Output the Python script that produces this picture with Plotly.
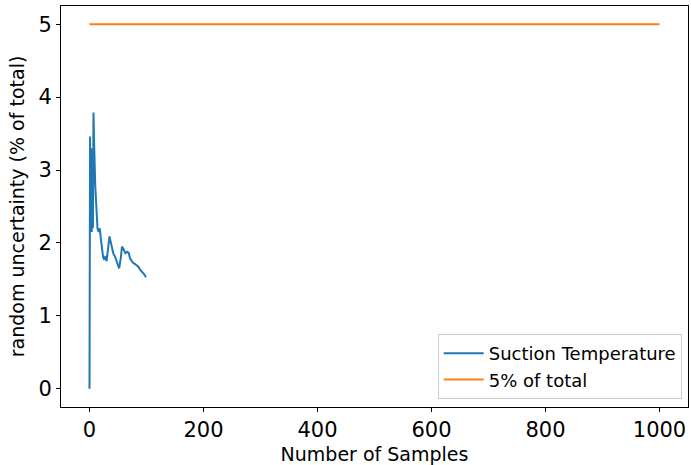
import plotly.graph_objects as go

samples = [0, 1, 2, 3, 4, 5, 6, 7, 8, 10, 12, 14, 16, 18, 20, 22, 24, 26, 28, 30, 33, 35, 37, 39, 42, 45, 48, 52, 55, 57, 60, 63, 66, 69, 71, 76, 80, 82, 86, 89, 93, 96, 99]
uncert = [0.0, 3.46, 2.15, 3.3, 2.15, 3.1, 2.2, 3.79, 3.4, 2.8, 2.4, 2.2, 2.15, 2.2, 2.05, 1.95, 1.8, 1.77, 1.82, 1.75, 1.95, 2.09, 2.02, 1.95, 1.85, 1.81, 1.74, 1.65, 1.8, 1.95, 1.91, 1.86, 1.88, 1.86, 1.79, 1.73, 1.71, 1.70, 1.67, 1.63, 1.60, 1.57, 1.53]
limit_x = [0, 1000]
limit_y = [5, 5]

fig = go.Figure()
fig.add_trace(go.Scatter(x=samples, y=uncert, mode="lines", name="Suction Temperature",
                         line=dict(color="#1f77b4", width=2)))
fig.add_trace(go.Scatter(x=limit_x, y=limit_y, mode="lines", name="5% of total",
                         line=dict(color="#ff7f0e", width=2)))

axis_common = dict(showline=True, linecolor="black", linewidth=1, mirror=True,
                   ticks="outside", ticklen=4, tickcolor="black", showgrid=False,
                   zeroline=False, tickfont=dict(size=21, color="black"))
fig.update_layout(
    width=691, height=465,
    margin=dict(l=61, r=3, t=6, b=58),
    paper_bgcolor="white", plot_bgcolor="white",
    font=dict(family="DejaVu Sans", color="black"),
    xaxis=dict(range=[-50, 1050], tickvals=[0, 200, 400, 600, 800, 1000],
               title=dict(text="Number of Samples", font=dict(size=19), standoff=7), **axis_common),
    yaxis=dict(range=[-0.25, 5.25], tickvals=[0, 1, 2, 3, 4, 5],
               title=dict(text="random uncertainty (% of total)", font=dict(size=19), standoff=8), **axis_common),
    legend=dict(x=0.99, y=0.02, xanchor="right", yanchor="bottom",
                bgcolor="rgba(255,255,255,0.8)", bordercolor="#cccccc", borderwidth=1,
                font=dict(size=18), itemwidth=40),
    showlegend=True,
)
fig.write_html("out.html")
